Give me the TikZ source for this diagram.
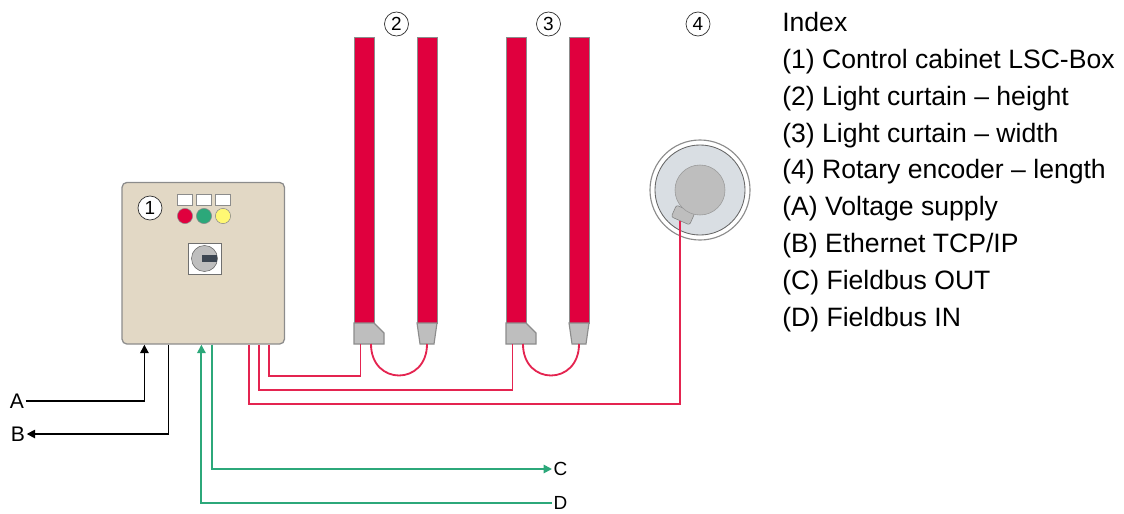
\documentclass[tikz,border=0pt]{standalone}
\usepackage{fontspec}
\setmainfont{Liberation Sans}
\usetikzlibrary{arrows.meta, calc}
\definecolor{curtainred}{RGB}{224,0,62}
\definecolor{wirered}{RGB}{228,36,80}
\definecolor{busgreen}{RGB}{44,168,122}
\definecolor{boxbeige}{RGB}{226,216,197}
\definecolor{framegray}{RGB}{140,140,140}
\definecolor{capgray}{RGB}{190,190,190}
\definecolor{discblue}{RGB}{217,222,227}
\definecolor{slate}{RGB}{60,70,82}

\begin{document}
\begin{tikzpicture}[
    x=0.025cm, y=-0.025cm,
    cabinet/.style={
      rectangle,
      draw=framegray,
      fill=boxbeige,
      line width=0.9pt,
      rounded corners=3.5pt,
      minimum width=4.06cm,
      minimum height=4.04cm,
      inner sep=0pt
    },
    num/.style={
      circle,
      draw=black!80,
      fill=white,
      line width=0.5pt,
      minimum size=0.6cm,
      inner sep=0pt,
      font=\fontsize{13.5}{15}\selectfont
    },
    bar/.style={draw=framegray, fill=curtainred, line width=0.6pt},
    foot/.style={draw=framegray, fill=capgray, line width=0.8pt},
    wire/.style={draw=wirered, line width=1.3pt},
    sig/.style={draw=black, line width=1.2pt},
    bus/.style={draw=busgreen, line width=1.3pt},
    tip/.style={-{Triangle[length=6pt, width=6pt]}},
    tag/.style={inner sep=1pt, font=\fontsize{15}{17}\selectfont}
  ]

    \useasboundingbox (0,0) rectangle (1124,513);

    % Control cabinet
    \node[cabinet] (lsc) at (203.25,263.25) {};
    \node[num] (n1) at (150,208) {1};
    \foreach \x/\c in {185/curtainred, 204/busgreen, 223/yellow!55} {
      \node[draw=framegray, fill=white, minimum width=0.38cm, minimum height=0.27cm,
            inner sep=0pt] at (\x,199.5) {};
      \node[circle, draw=framegray, fill=\c, minimum size=0.38cm, inner sep=0pt] at (\x,216) {};
    }
    \node[draw=framegray!80!black, fill=white, minimum width=0.82cm, minimum height=0.78cm,
          inner sep=0pt] (sw) at (204.5,258.5) {};
    \node[circle, draw=black!60, fill=capgray, minimum size=0.65cm, inner sep=0pt] (swknob) at (sw) {};
    \fill[slate] (202,255) rectangle (217,262);

    % Ports on the cabinet floor
    \foreach \p/\dx in {pA/23, pB/47, pD/80, pC/91, p1/128, p2/138, p3/147.5}
      \coordinate (\p) at ($(lsc.south west)+(\dx,0)$);

    % Light curtain pairs
    \foreach \x/\n in {354/2, 506/3} {
      \draw[bar] (\x,37) rectangle (\x+20,323);
      \draw[foot] (\x,323) -- (\x+20,323) -- (\x+30,333) -- (\x+30,344) -- (\x,344) -- cycle;
      \draw[bar] (\x+63,37) rectangle (\x+83,323);
      \draw[foot] (\x+63,323) -- (\x+83,323) -- (\x+80,344) -- (\x+66,344) -- cycle;
      \coordinate (tx\n) at (\x+6.5,344);
      \coordinate (lk\n) at (\x+17,344);
      \coordinate (rx\n) at (\x+73,344);
      \node[num] (n\n) at (\x+42.5,24) {\n};
    }

    % Rotary encoder
    \node[circle, draw=framegray, fill=white, line width=0.8pt, minimum size=2.5cm] (enc) at (700,190) {};
    \node[circle, draw=black!60, fill=discblue, line width=0.6pt, minimum size=2.25cm] (disc) at (enc) {};
    \node[draw=gray, fill=capgray, rounded corners=1.5pt, minimum width=0.5cm,
          minimum height=0.32cm, rotate=-24] (tab) at (683,215) {};
    \node[circle, draw=gray!80, fill=capgray, minimum size=1.25cm] (knob) at (enc) {};
    \node[num] (n4) at (698,24) {4};

    % Sensor wiring
    \draw[wire] (p1) -- ++(0,59) -| (tab.south);
    \draw[wire] (p2) -- ++(0,45) -| (tx3);
    \draw[wire] (p3) -- ++(0,31.5) -| (tx2);
    \draw[wire] (lk2) .. controls +(0,42) and +(0,42) .. (rx2);
    \draw[wire] (lk3) .. controls +(0,42) and +(0,42) .. (rx3);

    % Supply, network and fieldbus
    \node[tag] (A) at (17,401) {A};
    \node[tag] (B) at (18,434) {B};
    \node[tag, anchor=west, font=\fontsize{13.5}{15}\selectfont] (C) at (552,469) {C};
    \node[tag, anchor=west, font=\fontsize{13.5}{15}\selectfont] (D) at (552,503) {D};
    \draw[sig, tip] (A) -| (pA);
    \draw[sig, tip] (pB) |- (B);
    \draw[bus, tip] (pC) |- (C);
    \draw[bus, tip] (D) -| (pD);

    % Index
    \node[anchor=north west, inner sep=0pt, align=left,
          font=\fontsize{18.9}{26.2}\selectfont] (index) at (782,12) {
      Index\\
      (1) Control cabinet LSC-Box\\
      (2) Light curtain -- height\\
      (3) Light curtain -- width\\
      (4) Rotary encoder -- length\\
      (A) Voltage supply\\
      (B) Ethernet TCP/IP\\
      (C) Fieldbus OUT\\
      (D) Fieldbus IN
    };

\end{tikzpicture}
\end{document}
